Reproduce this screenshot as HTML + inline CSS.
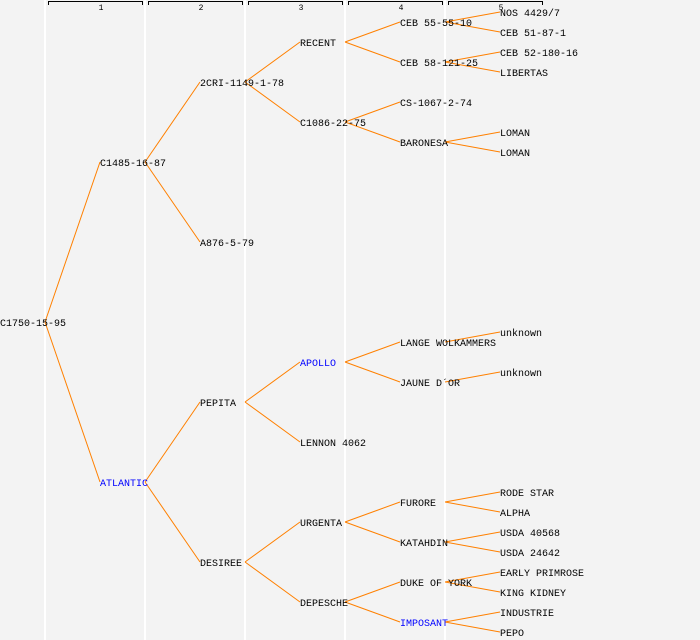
<!DOCTYPE html>
<html><head><style>
html,body{margin:0;padding:0;background:#f3f3f3;}
svg{display:block;}
text{font-family:"Liberation Mono",monospace;font-size:10px;fill:#000;}
.b{fill:#0000ff;}
.n{font-size:8px;}
</style></head><body>
<svg width="700" height="640" xmlns="http://www.w3.org/2000/svg">
<rect width="700" height="640" fill="#f3f3f3"/>
<g stroke="#ffffff" stroke-width="2">
<line x1="45" y1="0" x2="45" y2="640"/><line x1="145" y1="0" x2="145" y2="640"/>
<line x1="245" y1="0" x2="245" y2="640"/><line x1="345" y1="0" x2="345" y2="640"/>
<line x1="445" y1="0" x2="445" y2="640"/>
</g>
<g stroke="#000" fill="none" stroke-width="1">
<path d="M48.5,5V1.5H142.5V5"/><path d="M148.5,5V1.5H242.5V5"/><path d="M248.5,5V1.5H342.5V5"/>
<path d="M348.5,5V1.5H442.5V5"/><path d="M448.5,5V1.5H542.5V5"/>
</g>
<g text-anchor="middle" class="n">
<text class="n" x="101" y="10">1</text><text class="n" x="201" y="10">2</text><text class="n" x="301" y="10">3</text><text class="n" x="401" y="10">4</text><text class="n" x="501" y="10">5</text>
</g>
<g stroke="#ff8000" stroke-width="1" fill="none">
<path d="M45,322L100,162M45,322L100,482"/>
<path d="M145,162L200,82M145,162L200,242M145,482L200,402M145,482L200,562"/>
<path d="M245,82L300,42M245,82L300,122M245,402L300,362M245,402L300,442M245,562L300,522M245,562L300,602"/>
<path d="M345,42L400,22M345,42L400,62M345,122L400,102M345,122L400,142M345,362L400,342M345,362L400,382M345,522L400,502M345,522L400,542M345,602L400,582M345,602L400,622"/>
<path d="M445,22L500,12M445,22L500,32M445,62L500,52M445,62L500,72M445,142L500,132M445,142L500,152M445,342L500,332M445,382L500,372M445,502L500,492M445,502L500,512M445,542L500,532M445,542L500,552M445,582L500,572M445,582L500,592M445,622L500,612M445,622L500,632"/>
</g>
<g>
<text x="0" y="326">C1750-15-95</text>
<text x="100" y="166">C1485-16-87</text><text class="b" x="100" y="486">ATLANTIC</text>
<text x="200" y="86">2CRI-1149-1-78</text><text x="200" y="246">A876-5-79</text><text x="200" y="406">PEPITA</text><text x="200" y="566">DESIREE</text>
<text x="300" y="46">RECENT</text><text x="300" y="126">C1086-22-75</text><text class="b" x="300" y="366">APOLLO</text><text x="300" y="446">LENNON 4062</text><text x="300" y="526">URGENTA</text><text x="300" y="606">DEPESCHE</text>
<text x="400" y="26">CEB 55-55-10</text><text x="400" y="66">CEB 58-121-25</text><text x="400" y="106">CS-1067-2-74</text><text x="400" y="146">BARONESA</text><text x="400" y="346">LANGE WOLKAMMERS</text><text x="400" y="386">JAUNE D´OR</text><text x="400" y="506">FURORE</text><text x="400" y="546">KATAHDIN</text><text x="400" y="586">DUKE OF YORK</text><text class="b" x="400" y="626">IMPOSANT</text>
<text x="500" y="16">NOS 4429/7</text><text x="500" y="36">CEB 51-87-1</text><text x="500" y="56">CEB 52-180-16</text><text x="500" y="76">LIBERTAS</text><text x="500" y="136">LOMAN</text><text x="500" y="156">LOMAN</text><text x="500" y="336">unknown</text><text x="500" y="376">unknown</text><text x="500" y="496">RODE STAR</text><text x="500" y="516">ALPHA</text><text x="500" y="536">USDA 40568</text><text x="500" y="556">USDA 24642</text><text x="500" y="576">EARLY PRIMROSE</text><text x="500" y="596">KING KIDNEY</text><text x="500" y="616">INDUSTRIE</text><text x="500" y="636">PEPO</text>
</g>
</svg>
</body></html>
